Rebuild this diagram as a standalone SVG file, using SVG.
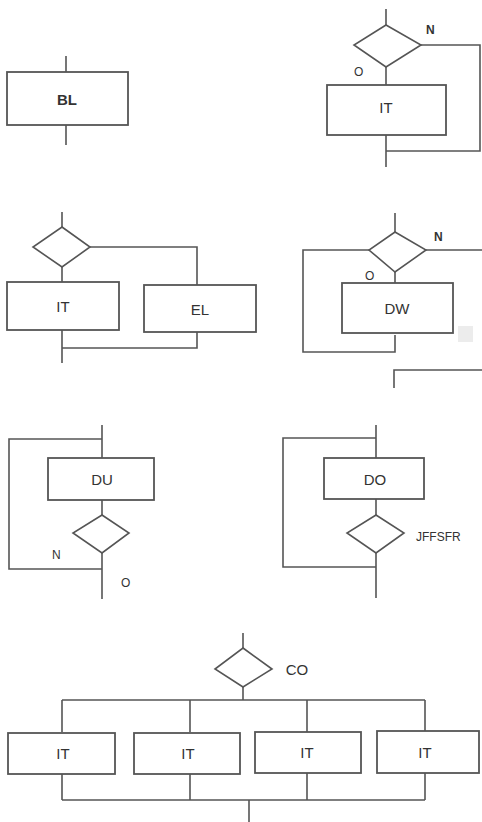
<svg xmlns="http://www.w3.org/2000/svg" width="482" height="822" viewBox="0 0 482 822">
<style>
.box{fill:#fff;stroke:#555;stroke-width:1.8}
.dia{fill:#fff;stroke:#555;stroke-width:1.6}
.ln{fill:none;stroke:#555;stroke-width:1.6}
.t{font-family:"Liberation Sans",Arial,sans-serif;font-size:15px;fill:#333;text-anchor:middle;dominant-baseline:central}
.s{font-family:"Liberation Sans",Arial,sans-serif;font-size:12px;fill:#333;dominant-baseline:central}
</style>
<rect width="482" height="822" fill="#fff"/>
<g id="connectors">
<path class="ln" d="M66 56V72M66 125V145"/>
<path class="ln" d="M386 9V25M386 67V85M386 135V167M421 45H480V151H386"/>
<path class="ln" d="M62 212V227M62 267V282M90 247H197V285M62 330V363M62 348H197V332"/>
<path class="ln" d="M395 213V232M395 272V283M369 250H303V352H395V335M426 250H482"/>
<path class="ln" d="M394 388V370H482"/>
<path class="ln" d="M102 425V458M102 500V515M102 553V599M102 439H9V569H102"/>
<path class="ln" d="M376 425V458M376 499V515M376 553V598M376 438H283V567H376"/>
<path class="ln" d="M243 633V648M243 687V700M62 700H425M62 700V732M190 700V732M307 700V732M425 700V731M62 774V800M190 774V800M307 773V800M425 773V800M62 800H425M249 800V822"/>
</g>
<g id="bl"><rect class="box" x="7" y="72" width="121" height="53"/><text class="t" x="67" y="99" font-weight="bold">BL</text></g>
<g id="while-dia"><polygon class="dia" points="386,25 421,45 386,67 354,45"/><text class="s" x="426" y="30" font-weight="bold">N</text><text class="s" x="354" y="72">O</text></g>
<g id="while-it"><rect class="box" x="327" y="85" width="119" height="50"/><text class="t" x="386" y="107">IT</text></g>
<g id="if-dia"><polygon class="dia" points="62,227 90,247 62,267 33,247"/></g>
<g id="if-it"><rect class="box" x="7" y="282" width="112" height="48"/><text class="t" x="63" y="306">IT</text></g>
<g id="if-el"><rect class="box" x="144" y="285" width="112" height="47"/><text class="t" x="200" y="309">EL</text></g>
<g id="dw-dia"><polygon class="dia" points="395,232 426,250 395,272 369,250"/><text class="s" x="434" y="237" font-weight="bold">N</text><text class="s" x="365" y="276">O</text></g>
<g id="dw-box"><rect class="box" x="342" y="283" width="111" height="50"/><text class="t" x="397" y="308">DW</text></g>
<rect x="458" y="326" width="15" height="16" fill="#ececec"/>
<g id="du-box"><rect class="box" x="48" y="458" width="106" height="42"/><text class="t" x="102" y="479">DU</text></g>
<g id="du-dia"><polygon class="dia" points="102,515 129,533 102,553 73,533"/><text class="s" x="52" y="555">N</text><text class="s" x="121" y="583">O</text></g>
<g id="do-box"><rect class="box" x="324" y="458" width="100" height="41"/><text class="t" x="375" y="479">DO</text></g>
<g id="do-dia"><polygon class="dia" points="376,515 404,533 376,553 347,533"/><text class="s" x="416" y="537" font-size="10">JFFSFR</text></g>
<g id="co-dia"><polygon class="dia" points="243,648 272,669 243,687 215,669"/><text class="t" x="297" y="669">CO</text></g>
<g id="co-it1"><rect class="box" x="8" y="733" width="107" height="41"/><text class="t" x="63" y="753">IT</text></g>
<g id="co-it2"><rect class="box" x="134" y="733" width="106" height="41"/><text class="t" x="188" y="753">IT</text></g>
<g id="co-it3"><rect class="box" x="255" y="732" width="106" height="41"/><text class="t" x="307" y="752">IT</text></g>
<g id="co-it4"><rect class="box" x="377" y="731" width="102" height="42"/><text class="t" x="425" y="752">IT</text></g>
</svg>
